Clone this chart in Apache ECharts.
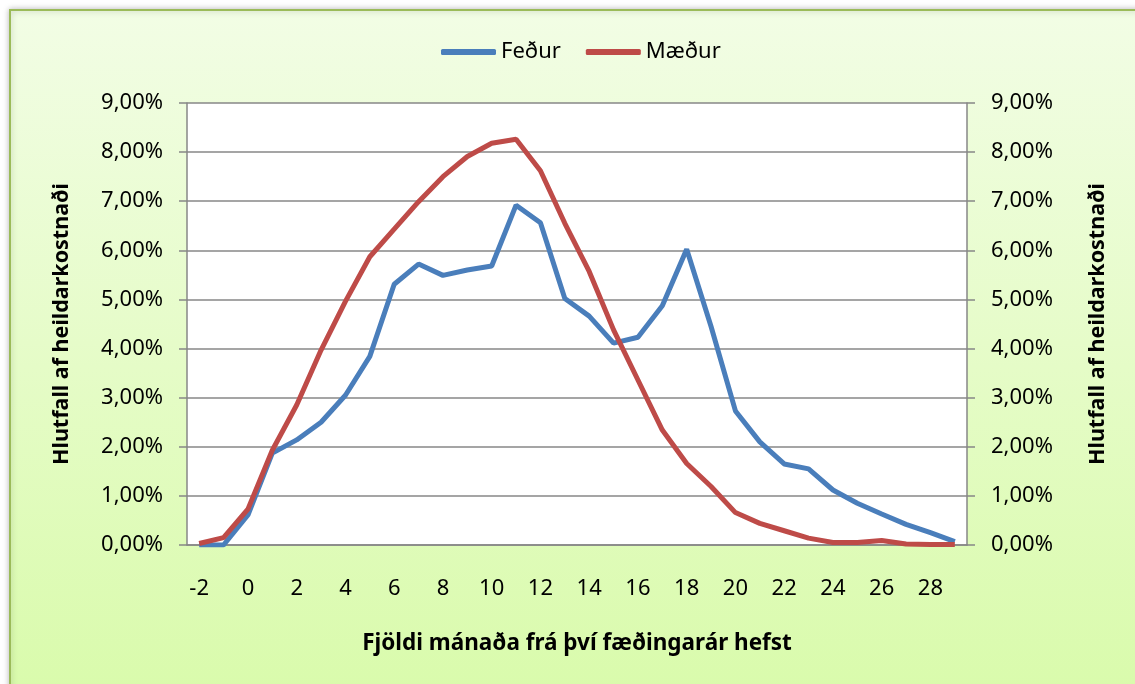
<!DOCTYPE html>
<html>
<head>
<meta charset="utf-8">
<script src="https://cdn.jsdelivr.net/npm/echarts@6/dist/echarts.min.js"></script>
<style>
  html, body { margin: 0; padding: 0; background: #fff; }
  #lineChart { width: 1135px; height: 684px; }
</style>
</head>
<body>
<div id="lineChart"></div>
<script>
// months from the start of the birth year
var months = [];
for (var m = -2; m <= 29; m++) months.push(String(m));

// share of total cost, in percent
var fedur = [
  0.00, 0.00, 0.61, 1.87, 2.14, 2.50, 3.05, 3.84, 5.31, 5.72, 5.49, 5.60,
  5.68, 6.92, 6.56, 5.02, 4.66, 4.11, 4.23, 4.87, 6.02, 4.45, 2.73, 2.10,
  1.65, 1.55, 1.12, 0.85, 0.63, 0.42, 0.25, 0.07
];
var maedur = [
  0.03, 0.15, 0.73, 1.93, 2.85, 3.97, 4.96, 5.87, 6.43, 6.99, 7.50, 7.91,
  8.18, 8.26, 7.62, 6.55, 5.57, 4.38, 3.36, 2.34, 1.66, 1.19, 0.66, 0.44,
  0.29, 0.14, 0.05, 0.05, 0.09, 0.02, 0.01, 0.01
];

var seriesNames = ['Feður', 'Mæður'];
var yName = 'Hlutfall af heildarkostnaði';
var xName = 'Fjöldi mánaða frá því fæðingarár hefst';

var myChart = echarts.init(document.getElementById('lineChart'));

var font = 'Noto Sans';
var gridGray = '#878787';

function pct(v) {
  return v.toFixed(2).replace('.', ',') + '%';
}

function valueAxis(pos) {
  return {
    type: 'value',
    position: pos,
    min: 0,
    max: 9,
    interval: 1,
    axisLine: { show: true, lineStyle: { color: gridGray, width: 1.5 } },
    axisTick: { show: true, length: 8, lineStyle: { color: gridGray, width: 1.5 } },
    splitLine: { show: pos === 'left', lineStyle: { color: gridGray, width: 1.5 } },
    axisLabel: {
      margin: 24,
      fontFamily: font,
      fontSize: 22,
      color: '#000',
      formatter: pct
    }
  };
}

// vertical axis titles, read bottom to top
function sideTitle(x) {
  return {
    type: 'text',
    rotation: Math.PI / 2,
    x: x,
    y: 324,
    style: {
      text: yName,
      fontFamily: font,
      fontSize: 21.5,
      fontWeight: 'bold',
      fill: '#000',
      align: 'center',
      verticalAlign: 'middle'
    }
  };
}

var option = {
  animation: false,
  graphic: [{
    type: 'rect',
    z: -10,
    shape: { x: 10, y: 10, width: 1140, height: 690 },
    style: {
      fill: new echarts.graphic.LinearGradient(0, 0, 0, 1, [
        { offset: 0, color: '#f2fde5' },
        { offset: 1, color: '#d9fbab' }
      ]),
      stroke: '#9bbb59',
      lineWidth: 2,
      shadowBlur: 6,
      shadowColor: 'rgba(0,0,0,0.25)'
    }
  }, sideTitle(62), sideTitle(1098)],
  legend: {
    data: seriesNames,
    left: 436,
    top: 36,
    itemWidth: 55,
    itemHeight: 6,
    itemGap: 25,
    icon: 'roundRect',
    textStyle: { fontFamily: font, fontSize: 22, color: '#000' }
  },
  grid: {
    left: 187,
    right: 168,
    top: 103,
    bottom: 139,
    show: true,
    backgroundColor: '#fff',
    borderWidth: 0
  },
  xAxis: {
    type: 'category',
    data: months,
    boundaryGap: true,
    name: xName,
    nameLocation: 'middle',
    nameGap: 87,
    nameTextStyle: { fontFamily: font, fontSize: 22.5, fontWeight: 'bold', color: '#000' },
    axisLine: { show: true, lineStyle: { color: gridGray, width: 1.5 } },
    axisTick: { show: false },
    axisLabel: {
      interval: 1,
      margin: 33,
      fontFamily: font,
      fontSize: 22,
      color: '#000'
    }
  },
  yAxis: [valueAxis('left'), valueAxis('right')],
  series: [{
    name: seriesNames[0],
    type: 'line',
    data: fedur,
    showSymbol: false,
    color: '#4a7ebb',
    lineStyle: { width: 5, color: '#4a7ebb' }
  }, {
    name: seriesNames[1],
    type: 'line',
    data: maedur,
    showSymbol: false,
    color: '#be4b48',
    lineStyle: { width: 5, color: '#be4b48' }
  }]
};

myChart.setOption(option);

window.addEventListener('resize', myChart.resize);
</script>
</body>
</html>
